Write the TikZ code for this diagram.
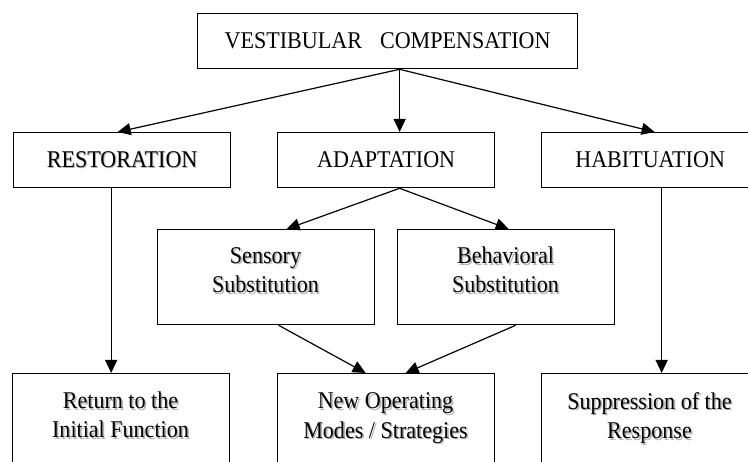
\documentclass[tikz,border=0pt]{standalone}
\usepackage{fontspec}
\setmainfont{Liberation Serif}[FakeStretch=0.92]
\usetikzlibrary{arrows.meta,calc}
\begin{document}
\begin{tikzpicture}[x=1pt,y=-1pt,
  box/.style={draw=black,line width=1.3pt,rectangle,inner sep=0pt,
    minimum width=217pt,minimum height=#1,anchor=north west,
    font=\fontsize{24}{29.5}\selectfont},
  txt/.style={font=\fontsize{24}{29.5}\selectfont,align=center,inner sep=0pt,anchor=center},
  shade/.style={txt,text=black!30,xshift=1.6pt,yshift=-1.6pt},
  arr/.style={line width=1.2pt,-{Triangle[length=13pt,width=12pt]}}]
\useasboundingbox (0,0) rectangle (748,462);
\clip (0,0) rectangle (748,462);
% text shadows
\node[shade] (rests) at (121.5,159.5) {RESTORATION};
\node[shade] (sensts) at (265.5,270) {Sensory\\Substitution};
\node[shade] (behts) at (505.5,270) {Behavioral\\Substitution};
\node[shade] (retts) at (120.5,415) {Return to the\\Initial Function};
\node[shade] (newts) at (385.5,418) {New Operating\\Modes / Strategies};
\node[shade] (supts) at (649.5,418) {Suppression of the\\Response};
% top
\node[box=55pt,minimum width=380pt] (vc) at (197,13) {VESTIBULAR\hspace{18pt}COMPENSATION};
% row 2
\node[box=55pt] (rest) at (13,132) {RESTORATION};
\node[box=55pt] (adap) at (277,132) {ADAPTATION};
\node[box=55pt] (hab) at (541,132) {HABITUATION};
% row 3
\node[box=95pt] (sens) at (157,229) {};
\node[box=95pt] (beh) at (397,229) {};
\node[txt] (senst) at (265.5,270) {Sensory\\Substitution};
\node[txt] (beht) at (505.5,270) {Behavioral\\Substitution};
% row 4
\node[box=95pt] (ret) at (12,373) {};
\node[box=95pt] (new) at (277,373) {};
\node[box=95pt] (sup) at (541,373) {};
\node[txt] (rett) at (120.5,415) {Return to the\\Initial Function};
\node[txt] (newt) at (385.5,418) {New Operating\\Modes / Strategies};
\node[txt] (supt) at (649.5,418) {Suppression of the\\Response};
% arrows
\coordinate (vcs) at ($(vc.south)+(12,0)$);
\draw[arr] (vcs) -- ($(rest.north)+(-4.5,0)$);
\draw[arr] (vcs) -- ($(adap.north)+(13.5,0)$);
\draw[arr] (vcs) -- ($(hab.north)+(4.5,0)$);
\coordinate (ads) at ($(adap.south)+(13.5,0)$);
\draw[arr] (ads) -- ($(sens.north)+(20.5,0)$);
\draw[arr] (ads) -- ($(beh.north)+(2.5,0)$);
\coordinate (r1) at ($(rest.south)+(-11,0)$);
\draw[arr] (r1) -- (r1 |- ret.north);
\coordinate (h1) at ($(hab.south)+(11.5,0)$);
\draw[arr] (h1) -- (h1 |- sup.north);
\draw[arr] ($(sens.south)+(12.5,0)$) -- ($(new.north)+(-20.5,0)$);
\draw[arr] ($(beh.south)+(9.5,0)$) -- ($(new.north)+(19.5,0)$);
\end{tikzpicture}
\end{document}
